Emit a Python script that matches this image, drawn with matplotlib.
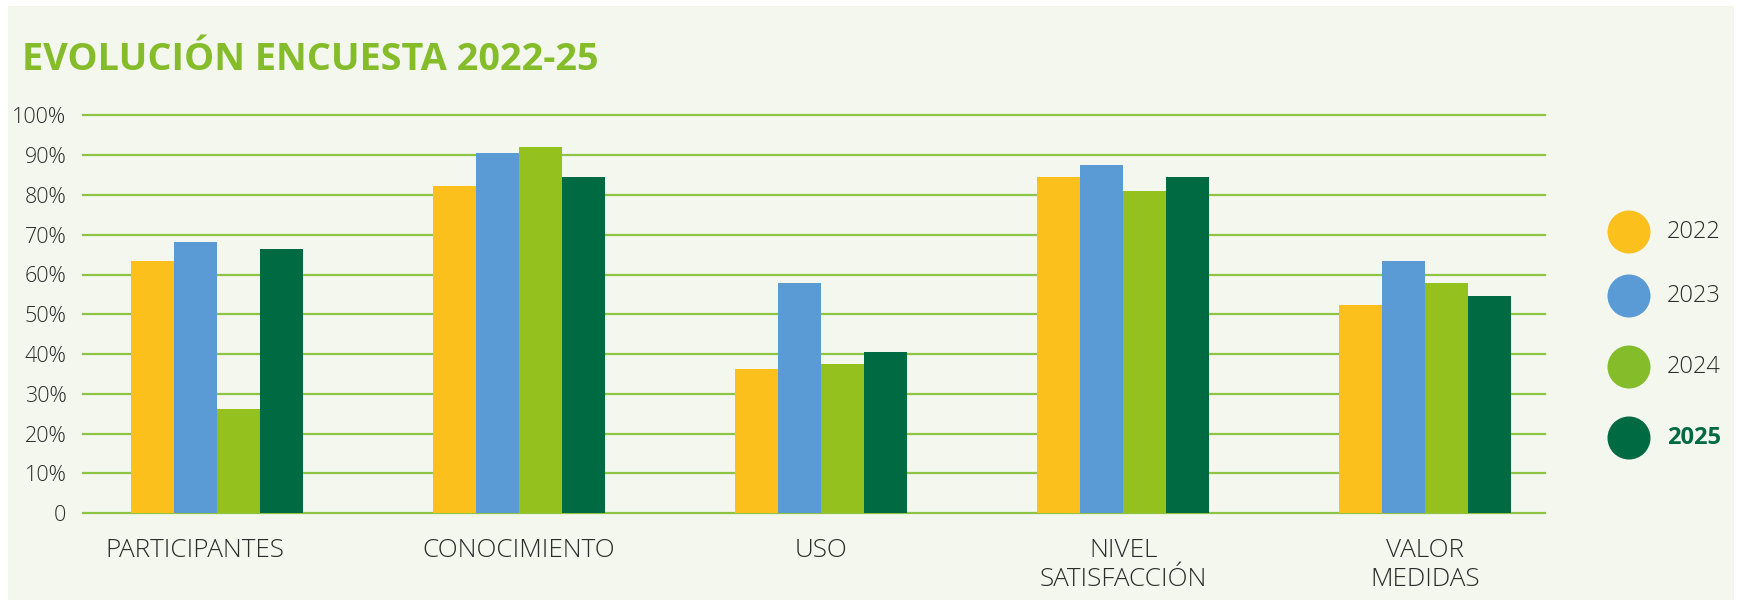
import numpy as np
import matplotlib
matplotlib.use("Agg")
import matplotlib.pyplot as plt
import matplotlib.transforms as mtransforms
from matplotlib.patches import Rectangle, Ellipse

plt.rcParams['font.family'] = ['Open Sans', 'DejaVu Sans']

# survey data (percent)
categorias = ['PARTICIPANTES', 'CONOCIMIENTO', 'USO', 'NIVEL\nSATISFACCIÓN', 'VALOR\nMEDIDAS']
anios = ['2022', '2023', '2024', '2025']
v2022 = [63.4, 82.2, 36.3, 84.5, 52.3]
v2023 = [68.2, 90.5, 57.9, 87.5, 63.4]
v2024 = [26.2, 92.0, 37.5, 81.0, 57.9]
v2025 = [66.4, 84.5, 40.5, 84.5, 54.6]
yticks = [0, 10, 20, 30, 40, 50, 60, 70, 80, 90, 100]
ytick_labels = ['0'] + ['%d%%' % t for t in yticks[1:]]

bar_cols = ['#FBC01B', '#5B9BD5', '#95C11F', '#006A43']
dot_cols = ['#FBC01B', '#5B9BD5', '#84BC2A', '#006A43']
grid_col = '#8EC444'
bg = '#F4F7EE'
txt = '#2B2B2B'

W, H = 1743, 606
fig = plt.figure(figsize=(W/100, H/100), dpi=100)
fig.patch.set_facecolor('white')
fig.patches.append(Rectangle((8/W, 6/H), 1726/W, 1 - 12/H,
                             transform=fig.transFigure, facecolor=bg,
                             edgecolor='none', zorder=-10))

ax = fig.add_axes([83/W, (H-513.3)/H, (1545-83)/W, 398/H])
ax.set_facecolor('none')
for s in ax.spines.values():
    s.set_visible(False)

x = np.arange(len(categorias))
w = 0.1424
series = [v2022, v2023, v2024, v2025]
for i, vals in enumerate(series):
    ax.bar(x + (i - 1.5) * w, vals, width=w, color=bar_cols[i], zorder=3)

for t in yticks:
    ax.axhline(t, color=grid_col, lw=1.6, zorder=1, clip_on=False)

ax.set_xlim(-0.4437, 4.397)
ax.set_ylim(0, 100)
ax.set_yticks(yticks)
ax.set_yticklabels(ytick_labels, fontsize=15.5, color=txt, fontweight='light')
ax.set_xticks(x)
ax.set_xticklabels(categorias, fontsize=18.8, color=txt, fontweight='light',
                   linespacing=1.2, va='top')
ax.tick_params(axis='both', length=0)
ax.tick_params(axis='y', pad=12)
ax.tick_params(axis='x', pad=18)

# first label sits a bit left of its group
lab0 = ax.get_xticklabels()[0]
lab0.set_transform(lab0.get_transform() +
                   mtransforms.ScaledTranslation(-0.22, 0, fig.dpi_scale_trans))

fig.text(22/W, 1 - 70/H, 'EVOLUCIÓN ENCUESTA 2022-25', fontsize=27.3,
         fontweight='bold', color='#84BC2A', va='baseline', ha='left')

# legend: colored dots with year labels
ys = [232, 296, 367, 438]
for i, a in enumerate(anios):
    fig.patches.append(Ellipse((1629/W, 1 - ys[i]/H), 43/W, 43/H,
                               transform=fig.transFigure, facecolor=dot_cols[i],
                               edgecolor='none'))
    fig.text(1667/W, 1 - ys[i]/H, a, fontsize=17, va='center', ha='left',
             color='#006A43' if i == 3 else txt,
             fontweight='bold' if i == 3 else 'light')

fig.savefig('out.png', dpi=100, facecolor=fig.get_facecolor())
